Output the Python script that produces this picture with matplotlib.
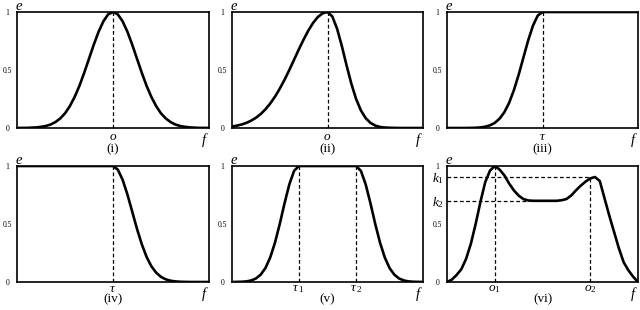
import numpy as np
import matplotlib
matplotlib.use('Agg')
import matplotlib.pyplot as plt

plt.rcParams['font.family'] = 'Liberation Serif'
plt.rcParams['mathtext.fontset'] = 'custom'
plt.rcParams['mathtext.rm'] = 'Liberation Serif'
plt.rcParams['mathtext.it'] = 'Liberation Serif:italic'

# f positions (0..1), same grid for every panel
f = np.linspace(0, 1, 41)

# e values
e_i = [0, .001, .001, .003, .005, .010, .017, .030, .051, .082, .126, .188, .267, .363, .476,
       .597, .719, .830, .920, .980, 1.0,
       .980, .920, .830, .719, .597, .476, .363, .267, .188, .126, .082, .051, .030, .017,
       .010, .005, .003, .001, .001, 0]
e_ii = [.013, .020, .030, .044, .063, .088, .120, .161, .211, .270, .339, .416, .500, .589, .678,
        .763, .841, .907, .958, .989, 1.0,
        .962, .857, .707, .539, .381, .249, .151, .085, .044, .021, .009, .004, .002, .001,
        0, 0, 0, 0, 0, 0]
e_iii = [0, 0, 0, 0, 0, .001, .002, .005, .011, .023, .044, .080, .135, .216, .325,
         .458, .607, .755, .882, .969, 1.0,
         1, 1, 1, 1, 1, 1, 1, 1, 1, 1, 1, 1, 1, 1, 1, 1, 1, 1, 1, 1]
e_iv = [1, 1, 1, 1, 1, 1, 1, 1, 1, 1, 1, 1, 1, 1, 1, 1, 1, 1, 1, 1, 1.0,
        .969, .882, .755, .607, .458, .325, .216, .135, .080, .044, .023, .011, .005, .002,
        .001, 0, 0, 0, 0, 0]
e_v = [0, .001, .002, .005, .013, .030, .063, .120, .211, .339, .500, .678, .841, .958, 1.0,
       1, 1, 1, 1, 1, 1, 1, 1, 1, 1, 1, 1,
       .958, .841, .678, .500, .339, .211, .120, .063, .030, .013, .005, .002, .001, 0]
e_vi = [0, .02, .06, .11, .20, .33, .50, .69, .86, .96, 1.0, .97, .92, .85, .79,
        .745, .715, .703, .70, .70, .70, .70, .70, .70, .705, .715, .745, .79, .83, .865,
        .893, .905, .87, .72, .57, .43, .29, .17, .10, .045, 0]

curves = [e_i, e_ii, e_iii, e_iv, e_v, e_vi]
captions = ['(i)', '(ii)', '(iii)', '(iv)', '(v)', '(vi)']
mark_pos = [[0.5], [0.5], [0.5], [0.5], [0.35, 0.65], [0.25, 0.75]]
mark_lbl = [[r'$o$'], [r'$o$'], [r'$\tau$'], [r'$\tau$'],
            [r'$\tau_{\ 1}$', r'$\tau_{\ 2}$'], [r'$o_1$', r'$o_2$']]
k_levels = [0.905, 0.70]
k_ends = [0.75, 0.43]
k_lbl = [r'$k_1$', r'$k_2$']

W, H = 640, 310
fig = plt.figure(figsize=(6.4, 3.1), dpi=100)

lefts = [17, 232, 447]
widths = [192, 191, 191]
tops = [12, 166]
ph = 116
lbl_off = [12, 9.5]   # px below axes to label baseline
cap_off = [21, 17]    # px below axes to caption centre

dash = (0, (3, 2))
for k in range(6):
    r, c = divmod(k, 3)
    ax = fig.add_axes([lefts[c] / W, (H - tops[r] - ph) / H, widths[c] / W, ph / H])
    ax.plot(f, curves[k], color='black', lw=1.9, solid_capstyle='round', zorder=3)
    ax.set_xlim(0, 1)
    ax.set_ylim(0, 1)
    for s in ax.spines.values():
        s.set_linewidth(1.2)
    ax.set_xticks([])
    ax.set_yticks([0, 0.5, 1])
    ax.set_yticklabels(['0', '0.5', '1'], fontsize=5.5, ha='center')
    ax.tick_params(axis='y', length=0, pad=7)

    for j, xp in enumerate(mark_pos[k]):
        top = 1.0
        if k == 5 and j == 1:
            top = k_levels[0]
        ax.plot([xp, xp], [0, top], color='black', lw=0.9, ls=dash, zorder=2)
        ax.annotate(mark_lbl[k][j], (xp, 0), xycoords=('data', 'axes fraction'),
                    xytext=(0, -lbl_off[r] * 0.72), textcoords='offset points',
                    ha='center', va='baseline', fontsize=9.5)
    if k == 5:
        for lv, xe, lb in zip(k_levels, k_ends, k_lbl):
            ax.plot([0, xe], [lv, lv], color='black', lw=0.9, ls=dash, zorder=2)
            ax.annotate(lb, (0, lv), xycoords='axes fraction', xytext=(-9 * 0.72, -1),
                        textcoords='offset points', ha='center', va='center', fontsize=9.5)

    ax.annotate(r'$e$', (0, 1), xycoords='axes fraction', xytext=(2 * 0.72, 1.5),
                textcoords='offset points', ha='center', va='baseline', fontsize=10.5)
    ax.annotate(r'$f$', (1, 0), xycoords='axes fraction', xytext=(-4 * 0.72, -3 * 0.72),
                textcoords='offset points', ha='center', va='top', fontsize=10.5)
    ax.annotate(captions[k], (0.5, 0), xycoords='axes fraction',
                xytext=(0, -cap_off[r] * 0.72), textcoords='offset points',
                ha='center', va='center', fontsize=9.5)

fig.savefig('out.png', dpi=100)
